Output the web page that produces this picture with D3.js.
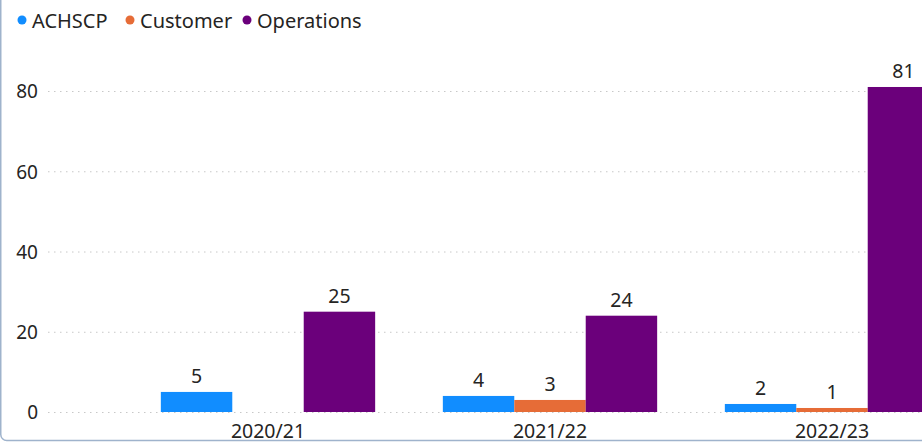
<!DOCTYPE html>
<html>
<head>
<meta charset="utf-8">
<script src="https://cdn.jsdelivr.net/npm/d3@7"></script>
<style>
  html, body { margin: 0; padding: 0; background: #fff; overflow: hidden; }
  svg { display: block; font-family: "Noto Sans", "Open Sans", sans-serif; }
</style>
</head>
<body>
<svg id="chart" width="922" height="443"></svg>
<script>
const categories = ["2020/21", "2021/22", "2022/23"];
const seriesNames = ["ACHSCP", "Customer", "Operations"];
const seriesColors = ["#118DFF", "#E66C37", "#6B007B"];
const achscp = [5, 4, 2];
const customer = [null, 3, 1];
const operations = [25, 24, 81];
const yTicks = [0, 20, 40, 60, 80];

const seriesValues = [achscp, customer, operations];

const svg = d3.select("#chart");
const W = 922, H = 443;

// border frame (partially visible)
svg.append("rect")
  .attr("x", 0.75).attr("y", -20)
  .attr("width", W + 20).attr("height", H - 2.5 + 20)
  .attr("rx", 6).attr("ry", 6)
  .attr("fill", "none")
  .attr("stroke", "#9fb3cc")
  .attr("stroke-width", 1.5);

const x0 = d3.scaleBand().domain(categories).range([127, 973]).paddingInner(0.24).paddingOuter(0.12);
const x1 = d3.scaleBand().domain(seriesNames).range([0, x0.bandwidth()]);
const y = d3.scaleLinear().domain([0, 80]).range([412, 91]);

// gridlines
svg.append("g").selectAll("line").data(yTicks).join("line")
  .attr("x1", 48).attr("x2", W)
  .attr("y1", d => y(d) + 0.5).attr("y2", d => y(d) + 0.5)
  .attr("stroke", "#c8c8c8")
  .attr("stroke-width", 1)
  .attr("stroke-dasharray", "1.5,4.5");

// y axis
const yAxis = d3.axisLeft(y).tickValues(yTicks).tickSize(0).tickPadding(0);
const yg = svg.append("g").attr("transform", "translate(38,0)").call(yAxis);
yg.select(".domain").remove();
yg.selectAll("text").attr("font-size", 19).attr("fill", "#252423")
  .attr("font-family", "'Noto Sans', sans-serif").attr("dy", "0.36em");

// x axis
const xAxis = d3.axisBottom(x0).tickSize(0).tickPadding(0);
const xg = svg.append("g").attr("transform", "translate(0,420)").call(xAxis);
xg.select(".domain").remove();
xg.selectAll("text").attr("font-size", 19.5).attr("fill", "#252423")
  .attr("font-family", "'Noto Sans', sans-serif").attr("dy", "0.9em");

// bars
const data = [];
categories.forEach((c, i) => {
  seriesNames.forEach((s, j) => {
    data.push({ cat: c, series: s, value: seriesValues[j][i], color: seriesColors[j] });
  });
});

const bars = svg.append("g");
bars.selectAll("rect").data(data.filter(d => d.value != null)).join("rect")
  .attr("x", d => x0(d.cat) + x1(d.series))
  .attr("y", d => y(d.value))
  .attr("width", x1.bandwidth())
  .attr("height", d => y(0) - y(d.value))
  .attr("fill", d => d.color);

bars.selectAll("text").data(data.filter(d => d.value != null)).join("text")
  .attr("x", d => x0(d.cat) + x1(d.series) + x1.bandwidth() / 2)
  .attr("y", d => y(d.value) - 8.5)
  .attr("text-anchor", "middle")
  .attr("font-size", 19.5)
  .attr("fill", "#252423")
  .text(d => d.value);

// legend
const legendX = [22, 130, 247];
const lg = svg.append("g");
seriesNames.forEach((s, j) => {
  lg.append("circle").attr("cx", legendX[j]).attr("cy", 20).attr("r", 4.5).attr("fill", seriesColors[j]);
  lg.append("text").attr("x", legendX[j] + 10).attr("y", 27.5)
    .attr("font-size", 20).attr("fill", "#252423").text(s);
});
</script>
</body>
</html>
